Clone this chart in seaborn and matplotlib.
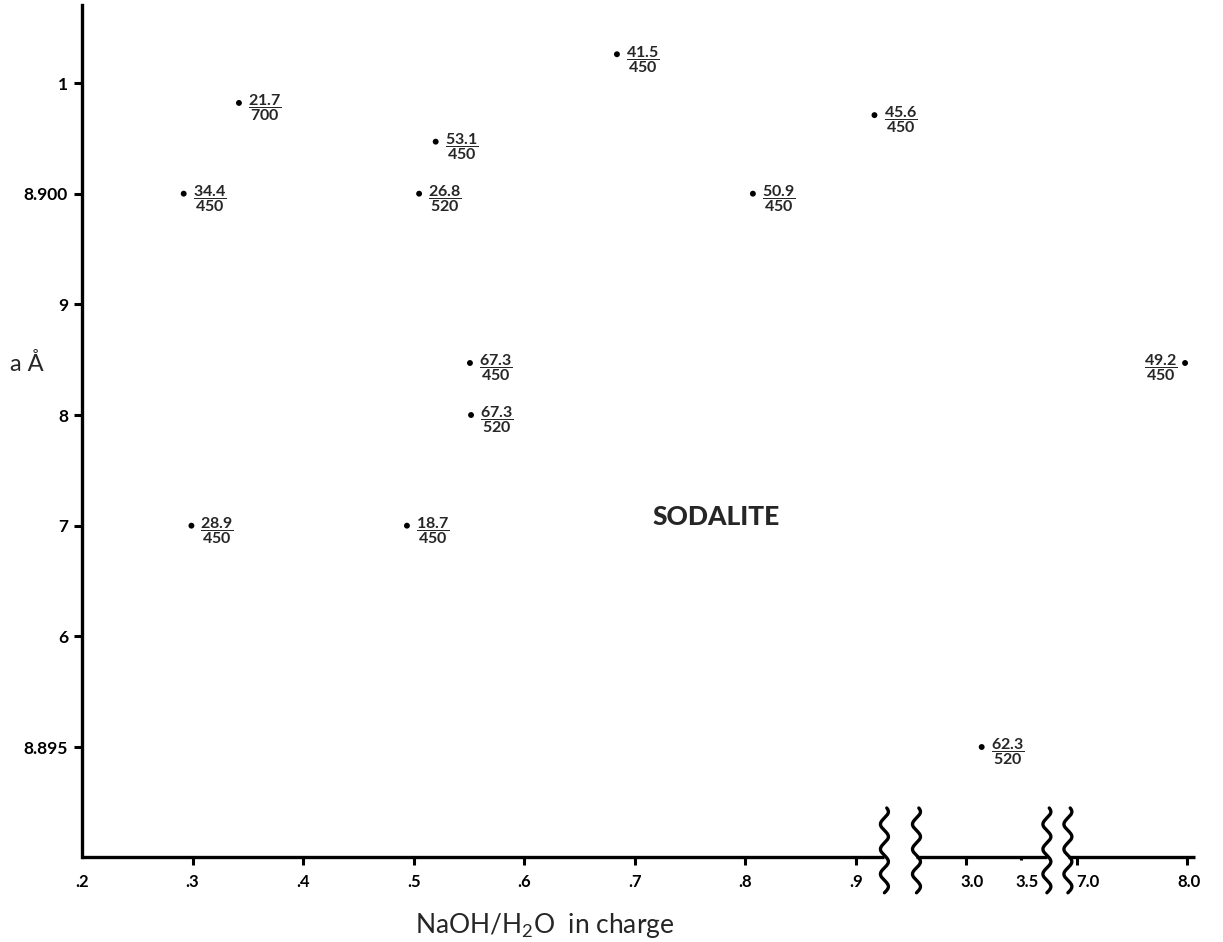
import numpy as np
import pandas as pd
import matplotlib
matplotlib.use("Agg")
import matplotlib.pyplot as plt
import matplotlib.transforms as mtransforms
import seaborn as sns

# ---------------- data ----------------
naoh_h2o = [0.292, 0.299, 0.342, 0.494, 0.505, 0.520, 0.551, 0.552, 0.684, 0.807, 0.917, 3.14, 7.98]
a_angstrom = [8.9000, 8.8970, 8.90082, 8.8970, 8.9000, 8.90047, 8.89847, 8.8980,
              8.90126, 8.9000, 8.90071, 8.8950, 8.89847]
numerators = ["34.4", "28.9", "21.7", "18.7", "26.8", "53.1", "67.3", "67.3",
              "41.5", "50.9", "45.6", "62.3", "49.2"]
denominators = ["450", "450", "700", "450", "520", "450", "450", "520",
                "450", "450", "450", "520", "450"]
label_side = ["right"] * 12 + ["left"]

x_ticks = [0.2, 0.3, 0.4, 0.5, 0.6, 0.7, 0.8, 0.9, 3.0, 3.5, 7.0, 8.0]
x_ticklabels = [".2", ".3", ".4", ".5", ".6", ".7", ".8", ".9", "3.0", "3.5", "7.0", "8.0"]
y_ticks = [8.895, 8.896, 8.897, 8.898, 8.899, 8.900, 8.901]
y_ticklabels = ["8.895", "6", "7", "8", "9", "8.900", "1"]

df = pd.DataFrame({"naoh": naoh_h2o, "a": a_angstrom})

# ---------------- broken x scale ----------------
XP = [-1.0, 0.2, 0.94, 2.41, 3.8, 6.81, 8.2, 20.0]
UP = [-12.0, 0.0, 7.4, 7.41, 8.8, 8.81, 10.2, 22.0]


def fwd(x):
    return np.interp(np.asarray(x, dtype=float), XP, UP)


def inv(u):
    return np.interp(np.asarray(u, dtype=float), UP, XP)


sns.set_style("ticks")
plt.rcParams["font.family"] = ["Lato", "DejaVu Sans"]
plt.rcParams["mathtext.fontset"] = "custom"
plt.rcParams["mathtext.rm"] = "Lato:bold"
plt.rcParams["mathtext.bf"] = "Lato:bold"
plt.rcParams["mathtext.it"] = "Lato:bold"

fig = plt.figure(figsize=(12.23, 9.42), dpi=100)
W, H = 1223, 942
ax = fig.add_axes([82 / W, 1 - 857 / H, (1195 - 82) / W, (857 - 5) / H])
ax.set_xscale("function", functions=(fwd, inv))

sns.scatterplot(data=df, x="naoh", y="a", ax=ax, color="black", s=18,
                edgecolor="none", legend=False, zorder=3)

for x, y, n, d, side in zip(naoh_h2o, a_angstrom, numerators, denominators, label_side):
    txt = r"$\dfrac{%s}{%s}$" % (n, d)
    if side == "right":
        ax.annotate(txt, (x, y), xytext=(6.5, -3.5), textcoords="offset points",
                    ha="left", va="center", fontsize=11.5)
    else:
        ax.annotate(txt, (x, y), xytext=(-5.5, -3.5), textcoords="offset points",
                    ha="right", va="center", fontsize=11.5)

ax.text((716 - 82) / 1113, (857 - 517) / 852, "SODALITE", transform=ax.transAxes,
        ha="center", va="center", fontsize=19, fontweight="black")

ax.set_xlim(0.2, float(inv(10.07)))
ax.set_ylim(8.894006, 8.901705)
ax.set_xticks(x_ticks)
ax.set_xticklabels(x_ticklabels)
ax.set_yticks(y_ticks)
ax.set_yticklabels(y_ticklabels)
ax.minorticks_off()

ax.tick_params(axis="x", direction="out", length=6, width=2.2, pad=6, labelsize=12, colors="black")
ax.tick_params(axis="y", direction="out", length=5.5, width=2.2, pad=4.5, labelsize=12.5, colors="black")
for lbl in ax.get_xticklabels() + ax.get_yticklabels():
    lbl.set_fontweight("bold")

# small rightward shifts of the labels after the axis breaks, as in the original
shifts = {"3.0": 6, "3.5": 6, "7.0": 11, "8.0": 2}
for lbl in ax.get_xticklabels():
    dx = shifts.get(lbl.get_text(), 0)
    if dx:
        lbl.set_transform(lbl.get_transform() + mtransforms.ScaledTranslation(dx / 100, 0, fig.dpi_scale_trans))

xt = ax.xaxis.get_major_ticks()
xt[0].tick1line.set_markersize(0)
xt[9].tick1line.set_markersize(2)

for s in ["top", "right", "bottom"]:
    ax.spines[s].set_visible(False)
ax.spines["left"].set_linewidth(2.4)
ax.spines["left"].set_color("black")

trans = mtransforms.blended_transform_factory(ax.transData, ax.transAxes)
for a, b in [(0.2, float(inv(7.26))), (float(inv(7.55)), float(inv(8.73))), (float(inv(8.92)), float(inv(10.07)))]:
    ax.plot([a, b], [0, 0], transform=trans, color="black", lw=2.4, clip_on=False,
            solid_capstyle="butt", zorder=4)

t = np.linspace(0, 1, 300)
y_w = -0.042 + t * (0.0575 + 0.042)
for u0 in [7.26, 7.55, 8.73, 8.92]:
    u = u0 + 0.036 * np.sin(2 * np.pi * 3.4 * t)
    ax.plot(inv(u), y_w, transform=trans, color="black", lw=2.4, clip_on=False, zorder=5)

ax.set_xlabel(r"NaOH/H$_\mathregular{2}$O  in charge", fontsize=19)
ax.xaxis.label.set_va("baseline")
ax.xaxis.set_label_coords((545 - 82) / 1113, (857 - 933) / 852)
ax.set_ylabel("a Å", fontsize=17, rotation=0)
ax.yaxis.label.set_va("baseline")
ax.yaxis.label.set_ha("center")
ax.yaxis.set_label_coords((27 - 82) / 1113, (857 - 371) / 852)

fig.savefig("out.png", dpi=100)
